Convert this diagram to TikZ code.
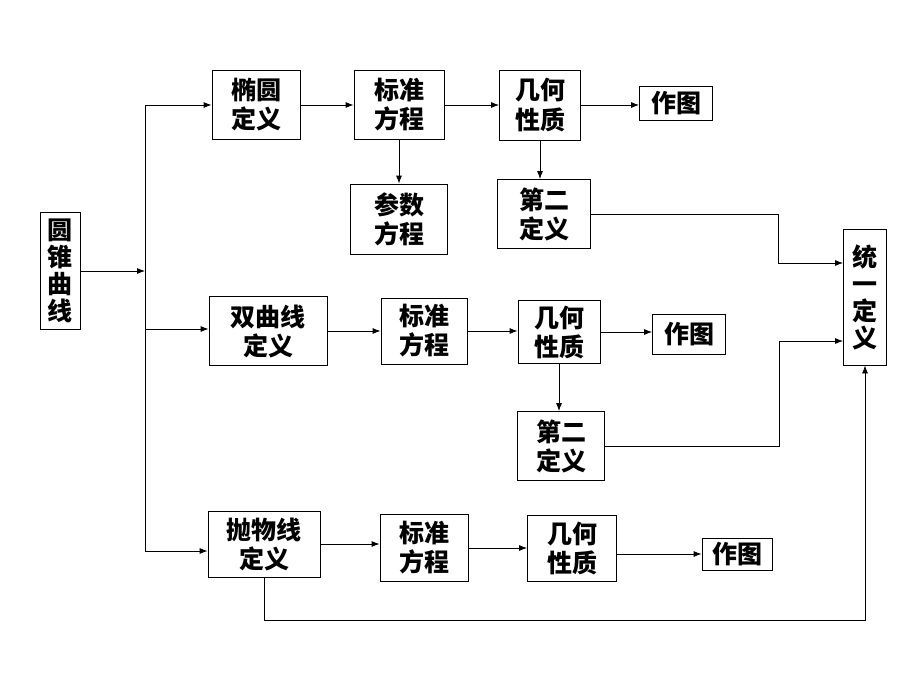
\documentclass[tikz,border=0pt]{standalone}
\usepackage{fontspec}
\usepackage{tikz}
\usetikzlibrary{arrows.meta, positioning, calc}
\newfontfamily\cjk{Noto Sans CJK SC}
\tikzset{
    box/.style={
        rectangle, draw=black, line width=0.8pt, fill=white, text=black,
        font=\cjk\bfseries\fontsize{25}{29}\selectfont, align=center, inner sep=0pt
    },
    tallbox/.style={box, font=\cjk\bfseries\fontsize{25}{27}\selectfont},
    arrow/.style={-{Latex[length=8pt, width=6pt]}, line width=0.8pt},
    link/.style={line width=0.8pt},
}
\begin{document}
\begin{tikzpicture}[x=1pt, y=-1pt]
    \useasboundingbox (0,0) rectangle (920,690);

    \node[tallbox, minimum width=40pt, minimum height=117pt] (cone) at (60, 271) {圆\\锥\\曲\\线};
    \node[tallbox, minimum width=43pt, minimum height=136pt] (unify) at (865, 297) {统\\一\\定\\义};

    % ellipse row
    \node[box, minimum width=88pt, minimum height=69pt] (ellipse) at (256, 105) {椭圆\\定义};
    \node[box, minimum width=90pt, minimum height=69pt] (std1) at (399, 105) {标准\\方程};
    \node[box, minimum width=81pt, minimum height=70pt] (geo1) at (540, 105) {几何\\性质};
    \node[box, minimum width=73pt, minimum height=34pt] (draw1) at (676, 103) {作图};
    \node[box, minimum width=97pt, minimum height=70pt] (param) at (399, 219) {参数\\方程};
    \node[box, minimum width=93pt, minimum height=69pt] (sec1) at (544, 214) {第二\\定义};

    % hyperbola row
    \node[box, minimum width=118pt, minimum height=69pt] (hyper) at (268, 331) {双曲线\\定义};
    \node[box, minimum width=86pt, minimum height=66pt] (std2) at (424, 331) {标准\\方程};
    \node[box, minimum width=82pt, minimum height=63pt] (geo2) at (559, 332) {几何\\性质};
    \node[box, minimum width=73pt, minimum height=40pt] (draw2) at (689, 334) {作图};
    \node[box, minimum width=87pt, minimum height=69pt] (sec2) at (561, 446) {第二\\定义};

    % parabola row
    \node[box, minimum width=112pt, minimum height=66pt] (para) at (264, 544) {抛物线\\定义};
    \node[box, minimum width=88pt, minimum height=67pt] (std3) at (424, 548) {标准\\方程};
    \node[box, minimum width=89pt, minimum height=66pt] (geo3) at (572, 548) {几何\\性质};
    \node[box, minimum width=70pt, minimum height=32pt] (draw3) at (737, 554) {作图};

    \coordinate (split) at (145, 271);
    \coordinate (trunktop) at (145, 105);
    \coordinate (trunkmid) at (145, 329);
    \coordinate (trunkbot) at (145, 551);
    \coordinate (bendA) at (778, 263);
    \coordinate (bendB) at (779, 341);
    \coordinate (bottom) at (264, 620);

    \draw[arrow] (cone) -- (split);
    \draw[link] (trunktop) -- (trunkbot);
    \draw[arrow] (trunktop) -- (trunktop -| ellipse.west);
    \draw[arrow] (trunkmid) -- (trunkmid -| hyper.west);
    \draw[arrow] (trunkbot) -- (trunkbot -| para.west);

    \draw[arrow] (ellipse) -- (std1);
    \draw[arrow] (std1) -- (geo1);
    \draw[arrow] (geo1) -- (geo1 -| draw1.west);
    \draw[arrow] (std1) -- (param);
    \draw[arrow] (geo1.south) -- (geo1.south |- sec1.north);

    \draw[arrow] (hyper) -- (std2);
    \draw[arrow] (std2) -- (std2 -| geo2.west);
    \draw[arrow] (geo2) -- (geo2 -| draw2.west);
    \draw[arrow] (geo2) -- (geo2 |- sec2.north);

    \draw[arrow] (para) -- (para -| std3.west);
    \draw[arrow] (std3) -- (std3 -| geo3.west);
    \draw[arrow] (geo3.east |- draw3) -- (draw3);

    \draw[arrow] (sec1) -- (sec1 -| bendA) -- (bendA) -- (bendA -| unify.west);
    \draw[arrow] (sec2) -- (sec2 -| bendB) -- (bendB) -- (bendB -| unify.west);
    \draw[arrow] (para) -- (bottom) -- (bottom -| unify) -- (unify);
\end{tikzpicture}
\end{document}
